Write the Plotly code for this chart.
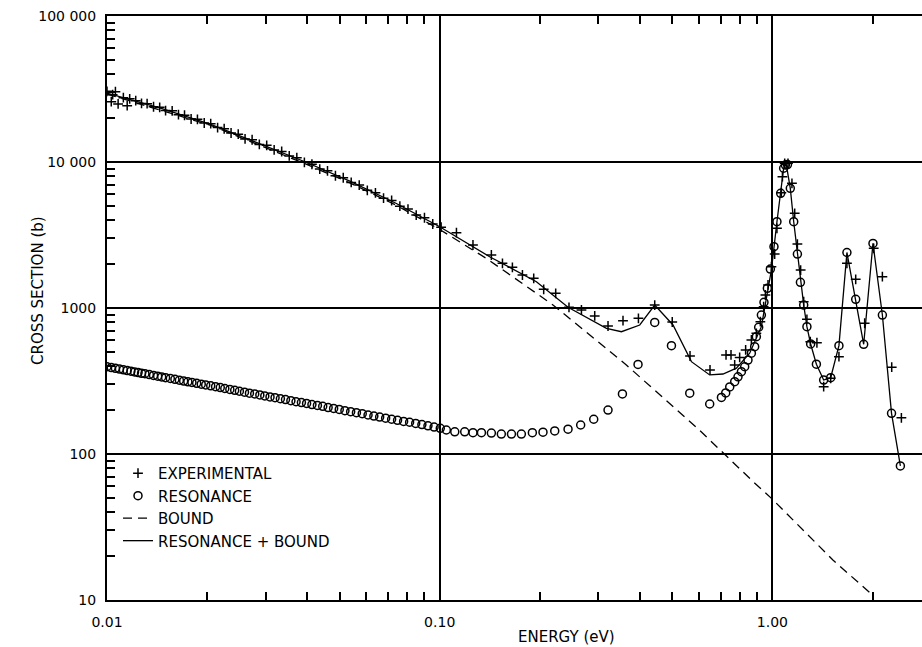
import plotly.graph_objects as go

# ---------------- data ----------------
# Axis ticks
x_major = [0.01, 0.1, 1.0]
x_labels = ["0.01", "0.10", "1.00"]
x_minor = [0.02, 0.03, 0.04, 0.05, 0.06, 0.07, 0.08, 0.09,
           0.2, 0.3, 0.4, 0.5, 0.6, 0.7, 0.8, 0.9, 2.0]
y_major = [10, 100, 1000, 10000, 100000]
y_labels = ["10", "100", "1000", "10 000", "100 000"]
y_minor = [20, 30, 40, 50, 60, 70, 80, 90,
           200, 300, 400, 500, 600, 700, 800, 900,
           2000, 3000, 4000, 5000, 6000, 7000, 8000, 9000,
           20000, 30000, 40000, 50000, 60000, 70000, 80000, 90000]

# Experimental points (+)
exp_e = [0.0100, 0.0103, 0.0104, 0.0106, 0.0108, 0.0112, 0.0115, 0.0117, 0.0122, 0.0127,
         0.0132, 0.0138, 0.0144, 0.0150, 0.0157, 0.0164, 0.0171, 0.0179, 0.0187, 0.0196,
         0.0205, 0.0215, 0.0225, 0.0236, 0.0248, 0.0260, 0.0273, 0.0287, 0.0302, 0.0318,
         0.0335, 0.0353, 0.0372, 0.0392, 0.0413, 0.0436, 0.0460, 0.0486, 0.0513, 0.0542,
         0.0573, 0.0606, 0.0641, 0.0678, 0.0717, 0.0759, 0.0803, 0.0850, 0.0900, 0.0953,
         0.1010,
         0.1123, 0.1259, 0.1430, 0.1544, 0.1654, 0.1773, 0.1917, 0.2054, 0.2232, 0.2447,
         0.2667, 0.2924, 0.3206, 0.3556, 0.3957, 0.4429, 0.5000, 0.5655, 0.6494, 0.7255,
         0.7510, 0.7703, 0.7973, 0.8310, 0.8647, 0.8950, 0.9201, 0.9414, 0.9528, 0.9701,
         0.9931, 1.016, 1.032, 1.064, 1.072, 1.089, 1.114, 1.145, 1.167, 1.189,
         1.216, 1.242, 1.270, 1.300, 1.361, 1.426, 1.497, 1.585, 1.675, 1.780,
         1.894, 2.016, 2.141, 2.284, 2.442]
exp_s = [30500, 25900, 28900, 30300, 25000, 27600, 24300, 27100, 26300, 25200,
         25100, 23900, 23700, 22500, 22400, 21100, 20900, 19700, 19600, 18500,
         18300, 17200, 16900, 15800, 15500, 14400, 14200, 13200, 13000, 12100,
         11800, 11000, 10700, 9950, 9650, 8950, 8700, 8050, 7800, 7250,
         6950, 6400, 6150, 5650, 5450, 4980, 4760, 4330, 4150, 3760,
         3580,
         3280, 2700, 2307, 2023, 1900, 1683, 1597, 1342, 1261, 1011,
         969, 882, 753, 819, 850, 1048, 802, 469, 376, 477,
         477, 407, 459, 516, 604, 671, 806, 1021, 1228, 1438,
         1919, 2343, 3513, 6166, 7930, 9800, 9800, 7140, 4453, 2742,
         1820, 1104, 837, 588, 578, 289, 330, 464, 2023, 1573,
         786, 2564, 1638, 393, 177]

# Resonance points (O)
res_e = [0.0100, 0.0103, 0.0106, 0.0109, 0.0112, 0.0115, 0.0118, 0.0121, 0.0124, 0.0127,
         0.0130, 0.0134, 0.0138, 0.0142, 0.0146, 0.0150, 0.0155, 0.0160, 0.0165, 0.0170,
         0.0175, 0.0180, 0.0186, 0.0192, 0.0198, 0.0205, 0.0212, 0.0219, 0.0226, 0.0234,
         0.0242, 0.0250, 0.0259, 0.0268, 0.0278, 0.0288, 0.0298, 0.0309, 0.0320, 0.0332,
         0.0344, 0.0357, 0.0370, 0.0384, 0.0398, 0.0413, 0.0429, 0.0445, 0.0462, 0.0480,
         0.0499, 0.0519, 0.0540, 0.0562, 0.0585, 0.0609, 0.0634, 0.0660, 0.0688, 0.0717,
         0.0747, 0.0779, 0.0812, 0.0847, 0.0884, 0.0922, 0.0962, 0.1004,
         0.1047, 0.1110, 0.1189, 0.1259, 0.1335, 0.1430, 0.1532, 0.1643, 0.1760, 0.1899,
         0.2044, 0.2217, 0.2431, 0.2653, 0.2904, 0.3206, 0.3542, 0.3946, 0.4429, 0.4973,
         0.5644, 0.6480, 0.7028, 0.7240, 0.7443, 0.7703, 0.7882, 0.8070, 0.8256, 0.8446,
         0.8647, 0.8846, 0.8950, 0.9094, 0.9266, 0.9434, 0.9658, 0.9860, 1.011, 1.032,
         1.059, 1.081, 1.094, 1.110, 1.132, 1.159, 1.189, 1.214, 1.242, 1.270,
         1.303, 1.356, 1.426, 1.497, 1.585, 1.675, 1.780, 1.881, 2.006, 2.141,
         2.281, 2.425]
res_s = [396, 391, 386, 382, 377, 373, 369, 365, 361, 357,
         355, 350, 345, 341, 337, 333, 329, 325, 320, 316,
         312, 309, 305, 301, 297, 293, 289, 285, 281, 277,
         273, 269, 265, 261, 258, 254, 250, 246, 243, 239,
         236, 232, 228, 225, 222, 218, 215, 212, 208, 205,
         202, 198, 195, 192, 189, 185, 182, 179, 176, 173,
         170, 167, 165, 162, 159, 156, 153, 150,
         146, 142, 142, 140, 140, 139, 137, 137, 137, 140,
         141, 144, 148, 158, 173, 200, 258, 411, 796, 552,
         261, 220, 244, 262, 288, 313, 338, 366, 396, 440,
         490, 543, 636, 738, 895, 1094, 1364, 1849, 2630, 3900,
         6100, 9060, 9530, 9600, 6600, 3900, 2340, 1500, 1048, 745,
         567, 412, 321, 333, 552, 2400, 1147, 564, 2770, 895,
         190, 82.8]

# Bound (dashed)
bound_e = [0.01, 0.0204, 0.0395, 0.0537, 0.0741, 0.1, 0.138, 0.219, 0.364,
           0.605, 0.873, 1.0, 1.52, 2.0]
bound_s = [29200, 17900, 9700, 7200, 5050, 3450, 2190, 1050, 407,
           145, 65, 49, 18.8, 10.8]

# Resonance + bound (solid)
total_e = [0.01, 0.0144, 0.0204, 0.03, 0.0395, 0.0537, 0.0741, 0.1, 0.1413, 0.1953,
           0.2431, 0.3171, 0.3518, 0.3993, 0.4429, 0.5027, 0.571, 0.648, 0.7105, 0.7794,
           0.8546, 0.9266, 0.9931, 1.032, 1.059, 1.081, 1.10, 1.132, 1.159, 1.189,
           1.214, 1.242, 1.27, 1.303, 1.356, 1.426, 1.497, 1.585, 1.675, 1.78,
           1.881, 2.006, 2.141, 2.281, 2.425]
total_s = [29600, 23500, 18200, 12900, 10000, 7400, 5200, 3600, 2245, 1514,
           1011, 726, 688, 765, 1048, 765, 429, 348, 353, 387,
           490, 745, 1820, 3900, 6100, 9060, 9700, 6600, 3900, 2340,
           1500, 1048, 745, 567, 412, 321, 333, 552, 2400, 1147,
           564, 2770, 895, 190, 83]

# ---------------- figure ----------------
FONT = "DejaVu Sans"
fig = go.Figure()
# dashed curve is placed on the top (matched) x axis so that axis gets drawn with its ticks
fig.add_trace(go.Scatter(x=bound_e, y=bound_s, mode="lines", name="BOUND",
                         xaxis="x2", yaxis="y",
                         line=dict(color="black", width=1.3, dash="9px,6px"),
                         legendrank=3))
fig.add_trace(go.Scatter(x=total_e, y=total_s, mode="lines", name="RESONANCE + BOUND",
                         line=dict(color="black", width=1.3), legendrank=4))
fig.add_trace(go.Scatter(x=res_e, y=res_s, mode="markers", name="RESONANCE",
                         marker=dict(symbol="circle-open", size=8, color="black",
                                     line=dict(width=1.5, color="black")),
                         legendrank=2))
fig.add_trace(go.Scatter(x=exp_e, y=exp_s, mode="markers", name="EXPERIMENTAL",
                         marker=dict(symbol="cross-thin-open", size=7, color="black",
                                     line=dict(width=1.5, color="black")),
                         legendrank=1))

tickfont = dict(family=FONT, size=14, color="black")
minor_x = dict(tickmode="array", tickvals=x_minor, ticks="inside", ticklen=8,
               tickwidth=1.5, tickcolor="black", showgrid=False)
minor_y = dict(tickmode="array", tickvals=y_minor, ticks="inside", ticklen=8,
               tickwidth=1.5, tickcolor="black", showgrid=False)

fig.update_layout(
    xaxis=dict(type="log", range=[-2, 0.4497], tickmode="array", tickvals=x_major,
               ticktext=x_labels, ticks="", showgrid=True, gridcolor="black",
               gridwidth=1.5, showline=True, linecolor="black", linewidth=2,
               zeroline=False, automargin=False, mirror=False, tickfont=tickfont,
               ticklabelstandoff=8, minor=minor_x),
    xaxis2=dict(type="log", range=[-2, 0.4497], matches="x", overlaying="x", side="top",
                tickmode="array", tickvals=x_major, ticks="", showticklabels=False,
                showgrid=False, showline=True, linecolor="black", linewidth=2,
                zeroline=False, automargin=False, minor=minor_x),
    yaxis=dict(type="log", range=[1, 5], tickmode="array", tickvals=y_major,
               ticktext=y_labels, ticks="", showgrid=True, gridcolor="black",
               gridwidth=1.5, showline=True, linecolor="black", linewidth=2,
               zeroline=False, automargin=False, mirror=False, tickfont=tickfont,
               ticklabelstandoff=6, minor=minor_y),
    width=922, height=647,
    margin=dict(l=107, r=0, t=16, b=47, autoexpand=False),
    paper_bgcolor="white", plot_bgcolor="white",
    font=dict(family=FONT, color="black"),
    showlegend=True,
    legend=dict(x=0.0135, y=0.2450, xanchor="left", yanchor="top",
                bgcolor="rgba(0,0,0,0)", borderwidth=0,
                font=dict(family=FONT, size=15, color="black")),
    annotations=[
        dict(text="ENERGY (eV)", xref="paper", yref="paper", x=0.5644, y=-0.0634,
             xanchor="center", yanchor="middle", showarrow=False,
             font=dict(family=FONT, size=15, color="black")),
        dict(text="CROSS SECTION (b)", xref="paper", yref="paper", x=-0.0847, y=0.5308,
             xanchor="center", yanchor="middle", textangle=-90, showarrow=False,
             font=dict(family=FONT, size=15, color="black")),
    ],
)

# remove the default page margin so the 922x647 figure fills the window exactly
fig.write_html("out.html", config={"displayModeBar": False},
               post_script="document.body.style.margin='0';document.body.style.overflow='hidden';")
